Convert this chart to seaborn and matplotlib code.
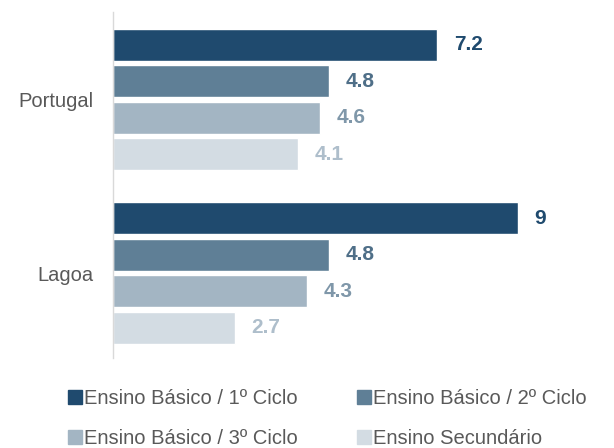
import matplotlib
matplotlib.use("Agg")
import matplotlib.pyplot as plt
import seaborn as sns
import pandas as pd
from matplotlib.lines import Line2D

regions = ["Portugal", "Lagoa"]
levels = ["Ensino Básico / 1º Ciclo", "Ensino Básico / 2º Ciclo",
          "Ensino Básico / 3º Ciclo", "Ensino Secundário"]
portugal_vals = [7.2, 4.8, 4.6, 4.1]
lagoa_vals = [9, 4.8, 4.3, 2.7]

bar_colors = ["#1F4A6E", "#5F7F96", "#A3B5C3", "#D3DCE3"]
label_colors = ["#1F4A6E", "#4F6F88", "#7F97A9", "#AEBECB"]

rows = []
for lvl, pv, lv in zip(levels, portugal_vals, lagoa_vals):
    rows.append({"region": "Portugal", "level": lvl, "value": pv})
    rows.append({"region": "Lagoa", "level": lvl, "value": lv})
df = pd.DataFrame(rows)

sns.set_theme(style="white")
plt.rcParams['font.family'] = ['Arial', 'Liberation Sans', 'DejaVu Sans']

fig = plt.figure(figsize=(6.14, 4.48), dpi=100)
ax = fig.add_axes([113/614, 1-358/448, (600-113)/614, (358-12)/448])

sns.barplot(data=df, y="region", x="value", hue="level", order=regions,
            hue_order=levels, palette=bar_colors, orient="h", width=0.84,
            gap=0.12, ax=ax, legend=False, saturation=1)

for i, cont in enumerate(ax.containers):
    labels = [f"{v:g}" for v in cont.datavalues]
    ax.bar_label(cont, labels=labels, padding=12, color=label_colors[i],
                 fontsize=15, fontweight="bold")

ax.set_xlim(0, (600-113)/45)
ax.set_ylim(1.49, -0.505)
ax.set_xlabel("")
ax.set_ylabel("")
ax.set_xticks([])
for s in ["top", "right", "bottom"]:
    ax.spines[s].set_visible(False)
ax.spines["left"].set_color("#D9D9D9")
ax.spines["left"].set_linewidth(1.0)
ax.tick_params(axis="y", length=0, pad=14, labelsize=14.5, labelcolor="#595959")

handles = [Line2D([0], [0], marker="s", linestyle="", markersize=10,
                  markerfacecolor=c, markeredgecolor=c) for c in bar_colors]
order = [0, 2, 1, 3]
fig.legend([handles[i] for i in order], [levels[i] for i in order],
           loc="upper left", bbox_to_anchor=(68/614, 1-389/448),
           ncol=2, frameon=False, fontsize=14.5, labelcolor="#595959",
           handlelength=0.7, handletextpad=0.1, columnspacing=2.95,
           labelspacing=1.05, borderaxespad=0, borderpad=0)

fig.savefig("out.png", dpi=100)
